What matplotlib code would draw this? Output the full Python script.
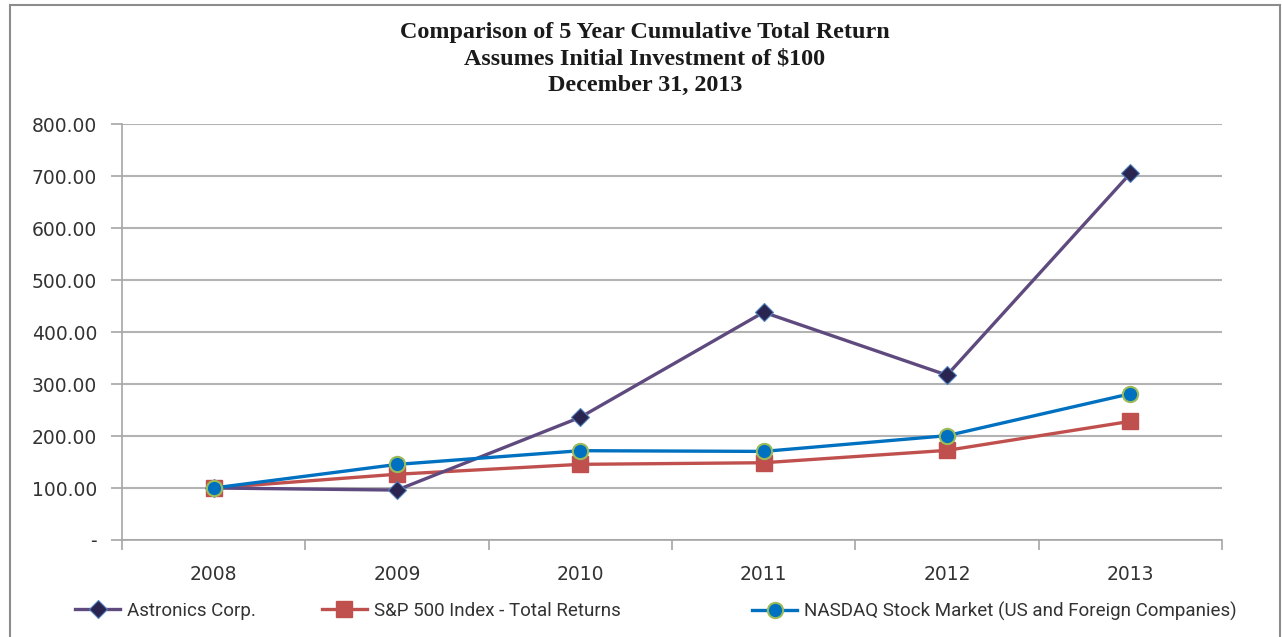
import matplotlib.pyplot as plt
from matplotlib.patches import Rectangle
from matplotlib.lines import Line2D

# data
years = ['2008', '2009', '2010', '2011', '2012', '2013']
astronics = [100.00, 96.00, 236.00, 438.00, 317.00, 705.00]
sp500 = [100.00, 126.46, 145.51, 148.59, 172.37, 228.19]
nasdaq = [100.00, 145.36, 171.74, 170.38, 200.63, 281.22]
y_ticks = [0, 100, 200, 300, 400, 500, 600, 700, 800]
y_labels = ['-', '100.00', '200.00', '300.00', '400.00', '500.00', '600.00', '700.00', '800.00']

W, H = 1282, 637
fig = plt.figure(figsize=(W / 100, H / 100), dpi=100)
fig.patch.set_facecolor('white')

# outer chart border
fig.add_artist(Rectangle((10 / W, -0.05), 1270 / W, 1.05 - 5 / H, transform=fig.transFigure,
                         fill=False, edgecolor='#8c8c8c', linewidth=1.5))

ax = fig.add_axes([122 / W, 97 / H, 1100 / W, 416 / H])
x = range(len(years))

styles = [
    dict(color='#5f4a7f', linewidth=2.4, marker='D', markersize=9,
         markerfacecolor='#2a2450', markeredgecolor='#4f81bd', markeredgewidth=0.8),
    dict(color='#c0504d', linewidth=2.4, marker='s', markersize=11,
         markerfacecolor='#c0504d', markeredgecolor='#c0504d'),
    dict(color='#0070c0', linewidth=2.4, marker='o', markersize=11,
         markerfacecolor='#0070c0', markeredgecolor='#9bbb59', markeredgewidth=1.5),
]
names = ['Astronics Corp.', 'S&P 500 Index - Total Returns',
         'NASDAQ Stock Market (US and Foreign Companies)']

ax.plot(x, astronics, zorder=5, **styles[0])
ax.plot(x, sp500, zorder=4, **styles[1])
ax.plot(x, nasdaq, zorder=6, **styles[2])

ax.set_xlim(-0.5, len(years) - 0.5)
ax.set_ylim(0, 800)
ax.set_yticks(y_ticks)
ax.set_yticklabels(y_labels)
ax.set_xticks(x)
ax.set_xticklabels(years)
ax.set_xticks([i - 0.5 for i in range(len(years) + 1)], minor=True)
ax.tick_params(axis='x', which='major', length=0, pad=18, labelsize=13.5, labelcolor='#333333')
ax.tick_params(axis='x', which='minor', length=7, color='#a6a6a6', width=1.2)
ax.tick_params(axis='y', length=8, color='#a6a6a6', width=1.2, pad=10,
               labelsize=13.5, labelcolor='#333333')

ax.grid(axis='y', color='#b3b3b3', linewidth=1.5)
ax.set_axisbelow(True)
for s in ['top', 'right']:
    ax.spines[s].set_visible(False)
for s in ['left', 'bottom']:
    ax.spines[s].set_color('#a6a6a6')
    ax.spines[s].set_linewidth(1.2)

fig.text(0.503, 1 - 59 / H, 'Comparison of 5 Year Cumulative Total Return\n'
         'Assumes Initial Investment of $100\nDecember 31, 2013',
         ha='center', va='center', fontsize=17.4, fontweight='bold',
         family='Liberation Serif', linespacing=1.32, color='#1a1a1a')

# legend entries placed one by one, like the Excel legend
leg_x = [75, 322, 752]
for st, name, lx in zip(styles, names, leg_x):
    h = Line2D([], [], **st)
    leg = fig.legend([h], [name], loc='center left', bbox_to_anchor=(lx / W, 1 - 611 / H),
                     frameon=False, borderpad=0, borderaxespad=0,
                     handlelength=2.4, handletextpad=0.35,
                     prop={'family': 'Roboto', 'size': 13.5})
    leg.get_texts()[0].set_color('#333333')

fig.savefig('out.png', dpi=100)
